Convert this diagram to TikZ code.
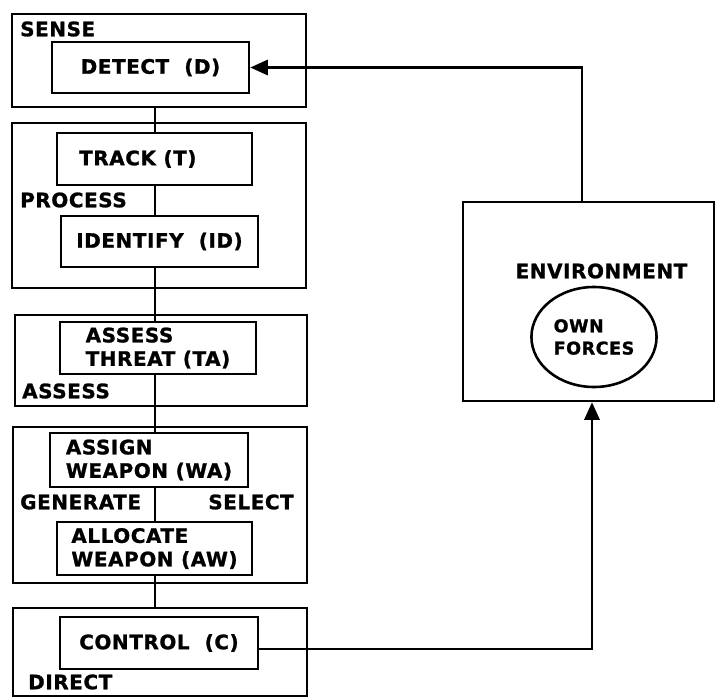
\documentclass[tikz,border=0pt]{standalone}
\usepackage{fontspec}
\setmainfont{DejaVu Sans}[LetterSpace=3, FakeBold=1.2]
\usetikzlibrary{arrows.meta,shapes.geometric}

\tikzset{
  group/.style={draw, line width=2.2pt, rectangle, inner sep=0pt},
  stage/.style={draw, line width=2.2pt, rectangle, inner sep=0pt, align=left,
    font=\bfseries\fontsize{17}{20}\selectfont},
  tag/.style={inner sep=0pt, font=\bfseries\fontsize{17}{20}\selectfont},
  link/.style={line width=2.2pt},
  feed/.style={line width=2.2pt, -{Triangle[length=15pt,width=13pt]}}
}

\begin{document}
\begin{tikzpicture}[x=0.03cm, y=-0.03cm]
    \useasboundingbox (0,0) rectangle (716,697);

    % Draw the outer groups
    \node[group, minimum width=8.82cm, minimum height=2.79cm] (sense) at (159,60.5) {};
    \node[group, minimum width=8.82cm, minimum height=4.95cm] (process) at (159,205.5) {};
    \node[group, minimum width=8.76cm, minimum height=2.73cm] (assess) at (161,360.5) {};
    \node[group, minimum width=8.82cm, minimum height=4.68cm] (generate) at (160,505) {};
    \node[group, minimum width=8.82cm, minimum height=2.64cm] (direct) at (160,652) {};

    % Draw the group labels
    \node[tag, anchor=west] (senselbl) at (20,29) {SENSE};
    \node[tag, anchor=west] (processlbl) at (20,200) {PROCESS};
    \node[tag, anchor=west] (assesslbl) at (22,391) {ASSESS};
    \node[tag, anchor=west] (generatelbl) at (20,502) {GENERATE};
    \node[tag, anchor=east] (selectlbl) at (294,502) {SELECT};
    \node[tag, anchor=west] (directlbl) at (28,682) {DIRECT};

    % Draw the stages
    \node[stage, minimum width=5.91cm, minimum height=1.53cm] (detect) at (150.5,67.5) {DETECT\ \ (D)};
    \node[stage, minimum width=5.85cm, minimum height=1.56cm] (track) at (154.5,159) {TRACK (T)\hspace*{1cm}};
    \node[stage, minimum width=5.91cm, minimum height=1.53cm] (identify) at (159.5,241.5) {IDENTIFY\ \ (ID)};
    \node[stage, minimum width=5.88cm, minimum height=1.56cm] (threat) at (158,348) {ASSESS\\THREAT (TA)};
    \node[stage, minimum width=5.94cm, minimum height=1.62cm] (assign) at (149,460) {ASSIGN\\WEAPON (WA)};
    \node[stage, minimum width=5.85cm, minimum height=1.59cm] (allocate) at (154.5,548.5) {ALLOCATE\\WEAPON (AW)};
    \node[stage, minimum width=5.94cm, minimum height=1.56cm] (control) at (159,643) {CONTROL\ \ (C)};

    % Draw the environment
    \node[group, minimum width=7.53cm, minimum height=5.97cm] (env) at (588.5,301.5) {};
    \node[tag] (envlbl) at (601.5,271) {ENVIRONMENT};
    \node[draw, ellipse, line width=2.2pt, minimum width=3.72cm, minimum height=3.0cm,
      align=left, font=\bfseries\fontsize{15}{19}\selectfont] (forces) at (594,337) {OWN\\FORCES};

    % Draw the spine through the stages
    \coordinate (spine) at (155,0);
    \draw[link] (sense.south -| spine) -- (track.north -| spine);
    \draw[link] (track.south -| spine) -- (identify.north -| spine);
    \draw[link] (identify.south -| spine) -- (threat.north -| spine);
    \draw[link] (threat.south -| spine) -- (assign.north -| spine);
    \draw[link] (assign.south -| spine) -- (allocate.north -| spine);
    \draw[link] (allocate.south -| spine) -- (direct.north -| spine);

    % Draw the loop through the environment
    \coordinate (up) at (582,0);
    \coordinate (down) at (592,0);
    \draw[feed] (env.north -| up) |- (detect.east);
    \draw[feed] ([yshift=-0.18cm]control.east) -| (env.south -| down);
\end{tikzpicture}
\end{document}
